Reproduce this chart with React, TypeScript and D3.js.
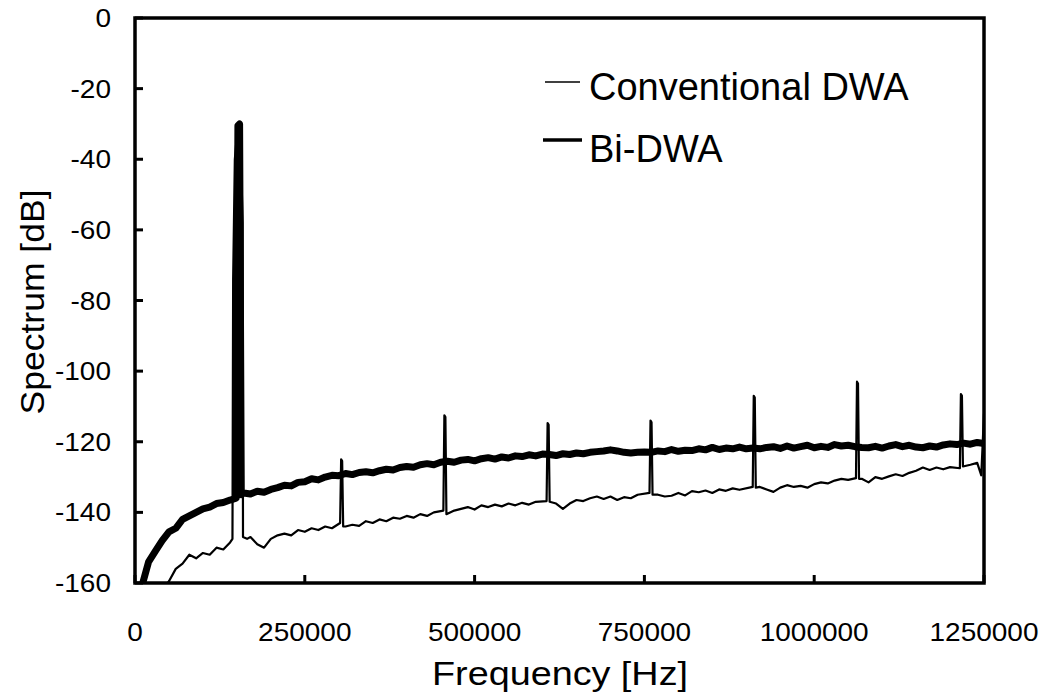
import React from "react";
import * as d3 from "d3";

// ---- data ----
const X_TICKS = [0, 250000, 500000, 750000, 1000000, 1250000];
const Y_TICKS = [0, -20, -40, -60, -80, -100, -120, -140, -160];
const LEGEND = ["Conventional DWA", "Bi-DWA"];

// Conventional DWA: [frequency Hz, dB]
const CONVENTIONAL: [number, number][] = [
  [0, -172], [10000, -169], [20000, -167], [30000, -165], [40000, -162], [50000, -159.5],
  [60000, -156], [70000, -154.5], [80000, -152], [90000, -153], [100000, -151.5], [110000, -152],
  [120000, -150], [130000, -150.5], [140000, -148.5], [143500, -147.5],
  [144500, -74], [147000, -40], [151000, -31], [156000, -40], [158500, -58], [159000, -147],
  [165000, -147.5], [170000, -147], [180000, -149], [190000, -150], [200000, -147.5], [210000, -146.5],
  [220000, -146], [230000, -146.5], [240000, -145], [250000, -145.5], [260000, -144.5], [270000, -145],
  [280000, -144], [290000, -144.5], [302000, -143], [303500, -125], [305000, -125.5], [306500, -144],
  [310000, -144], [320000, -143.5], [330000, -143.8], [340000, -142.5], [350000, -143], [360000, -142],
  [370000, -142.5], [380000, -141.5], [390000, -141.8], [400000, -141], [410000, -141.5], [420000, -140.5],
  [430000, -141], [440000, -140], [454000, -139.5], [455500, -112.5], [457000, -113], [458500, -140.5],
  [470000, -139.5], [480000, -139], [490000, -138.5], [500000, -139.2], [510000, -138], [520000, -138.5],
  [530000, -137.8], [540000, -138.3], [550000, -137.5], [560000, -138], [570000, -137.3], [580000, -137.8],
  [590000, -137], [606000, -136.8], [607500, -114.7], [609000, -115.2], [610500, -137],
  [620000, -137.5], [630000, -139], [640000, -137.5], [650000, -136.5], [660000, -136.8], [670000, -136],
  [680000, -135.5], [690000, -136.2], [700000, -135.5], [710000, -136.5], [720000, -135.7], [730000, -136],
  [740000, -135], [757500, -134.5], [759000, -114], [760500, -114.5], [762000, -135],
  [770000, -135], [780000, -135.5], [790000, -135.3], [800000, -134.5], [810000, -135.2], [820000, -134],
  [830000, -134.3], [840000, -133.8], [850000, -134.5], [860000, -133.5], [870000, -133.9], [880000, -133.2],
  [890000, -133.6], [909500, -132.8], [911000, -107], [912500, -107.5], [914000, -133],
  [920000, -132.8], [930000, -133.5], [940000, -134.2], [950000, -133], [960000, -132.3], [970000, -132.8],
  [980000, -132.5], [990000, -133], [1000000, -132], [1010000, -131.5], [1020000, -131.8], [1030000, -131],
  [1040000, -130.5], [1050000, -130.8], [1061500, -130.3], [1063000, -103], [1064500, -103.5], [1066000, -130.5],
  [1070000, -130.5], [1080000, -131.5], [1090000, -130], [1100000, -130.5], [1110000, -129.8], [1120000, -129.2],
  [1130000, -129.7], [1140000, -128.8], [1150000, -128.2], [1160000, -127.3], [1170000, -128], [1180000, -127.3],
  [1190000, -127.8], [1200000, -127.2], [1214500, -127.5], [1216000, -106.5], [1217500, -107], [1219000, -127],
  [1230000, -126.5], [1240000, -126], [1246000, -129.5], [1250000, -112],
];

// Bi-DWA: [frequency Hz, dB]
const BIDWA: [number, number][] = [
  [0, -172], [10000, -161], [20000, -154], [30000, -151], [40000, -148], [50000, -145.5],
  [60000, -144.5], [70000, -142], [80000, -141], [90000, -140], [100000, -139], [110000, -138.5],
  [120000, -137.5], [130000, -137.2], [140000, -136.5], [149000, -136],
  [151500, -30.5], [154000, -30], [156500, -135],
  [160000, -134.5], [170000, -134.8], [180000, -134], [190000, -134.3], [200000, -133.5], [210000, -133],
  [220000, -132.3], [230000, -132.5], [240000, -131.5], [250000, -131.3], [260000, -130.5], [270000, -130.8],
  [280000, -130], [290000, -129.5], [300000, -129.6], [310000, -129], [320000, -129.3], [330000, -128.7],
  [340000, -128.5], [350000, -128.8], [360000, -128.2], [370000, -127.8], [380000, -128], [390000, -127.3],
  [400000, -127], [410000, -127.2], [420000, -126.5], [430000, -126.2], [440000, -126.5], [450000, -125.8],
  [460000, -125.5], [470000, -125.8], [480000, -125.2], [490000, -125], [500000, -125.4], [510000, -124.8],
  [520000, -124.5], [530000, -124.9], [540000, -124.3], [550000, -124.6], [560000, -124], [570000, -124.2],
  [580000, -123.7], [590000, -124], [600000, -123.5], [610000, -123.6], [620000, -123.9], [630000, -123.4],
  [640000, -123.6], [650000, -123.2], [660000, -123.4], [670000, -123], [680000, -122.8], [690000, -122.6],
  [700000, -122.3], [710000, -122.6], [720000, -123], [730000, -123.2], [740000, -123], [750000, -122.9],
  [760000, -123], [770000, -122.6], [780000, -122.8], [790000, -122.2], [800000, -122.7], [810000, -122.4],
  [820000, -122.5], [830000, -122], [840000, -122.3], [850000, -121.6], [860000, -122.2], [870000, -121.8],
  [880000, -122], [890000, -121.5], [900000, -122], [910000, -121.8], [920000, -122], [930000, -121.6],
  [940000, -121.4], [950000, -121.9], [960000, -121.2], [970000, -121.8], [980000, -121.4], [990000, -121],
  [1000000, -121.7], [1010000, -121.3], [1020000, -121.6], [1030000, -120.8], [1040000, -121.2], [1050000, -121],
  [1060000, -121.4], [1070000, -121.6], [1080000, -121.7], [1090000, -121.3], [1100000, -121.8], [1110000, -121.2],
  [1120000, -120.8], [1130000, -121.4], [1140000, -121], [1150000, -121.5], [1160000, -121.7], [1170000, -121.2],
  [1180000, -121.5], [1190000, -120.9], [1200000, -120.6], [1210000, -120.8], [1220000, -120.4], [1230000, -120.7],
  [1240000, -120.2], [1250000, -120.5],
];

const FONT = "'Liberation Sans', Arial, Helvetica, sans-serif";

export default function App() {
  const left = 135, right = 984, top = 18, bottom = 583;
  const x = d3.scaleLinear().domain([0, 1250000]).range([left, right]);
  const y = d3.scaleLinear().domain([-160, 0]).range([bottom, top]);
  const line = d3.line<[number, number]>().x((d) => x(d[0])).y((d) => y(d[1]));
  const tickLen = 8;

  return (
    <svg
      width={1043}
      height={694}
      style={{ position: "absolute", left: 0, top: 0, background: "#fff" }}
      fontFamily={FONT}
    >
      <defs>
        <clipPath id="plot">
          <rect x={left} y={top} width={right - left} height={bottom - top} />
        </clipPath>
      </defs>
      <rect x={0} y={0} width={1043} height={694} fill="#fff" />

      <g clipPath="url(#plot)">
        <path d={line(BIDWA) || ""} fill="none" stroke="#000" strokeWidth={7} strokeLinejoin="round" />
        <path d={line(CONVENTIONAL) || ""} fill="none" stroke="#000" strokeWidth={2.2} strokeLinejoin="round" />
      </g>

      {/* frame */}
      <rect x={left} y={top} width={right - left} height={bottom - top} fill="none" stroke="#000" strokeWidth={3.5} />

      {/* y ticks */}
      {Y_TICKS.map((t) => (
        <g key={"y" + t}>
          <line x1={left} x2={left + tickLen} y1={y(t)} y2={y(t)} stroke="#000" strokeWidth={3} />
          <text
            transform={`translate(111, ${y(t) + 9}) scale(1.12, 1)`}
            textAnchor="end"
            fontSize={25}
            fill="#000"
          >
            {t}
          </text>
        </g>
      ))}

      {/* x ticks */}
      {X_TICKS.map((t) => (
        <g key={"x" + t}>
          <line x1={x(t)} x2={x(t)} y1={bottom} y2={bottom - tickLen} stroke="#000" strokeWidth={3} />
          <text
            transform={`translate(${x(t)}, 641) scale(1.12, 1)`}
            textAnchor="middle"
            fontSize={25}
            fill="#000"
          >
            {t}
          </text>
        </g>
      ))}

      {/* axis titles */}
      <text x={560} y={685} textAnchor="middle" fontSize={33} textLength={256} lengthAdjust="spacingAndGlyphs">
        Frequency [Hz]
      </text>
      <text
        transform="translate(44, 302) rotate(-90)"
        textAnchor="middle"
        fontSize={33}
        textLength={225}
        lengthAdjust="spacingAndGlyphs"
      >
        Spectrum [dB]
      </text>

      {/* legend */}
      <line x1={545} x2={580} y1={82} y2={82} stroke="#000" strokeWidth={1.5} />
      <text x={589} y={100} fontSize={38}>{LEGEND[0]}</text>
      <line x1={543} x2={582} y1={140} y2={140} stroke="#000" strokeWidth={3.5} />
      <text x={589} y={162} fontSize={38}>{LEGEND[1]}</text>
    </svg>
  );
}
